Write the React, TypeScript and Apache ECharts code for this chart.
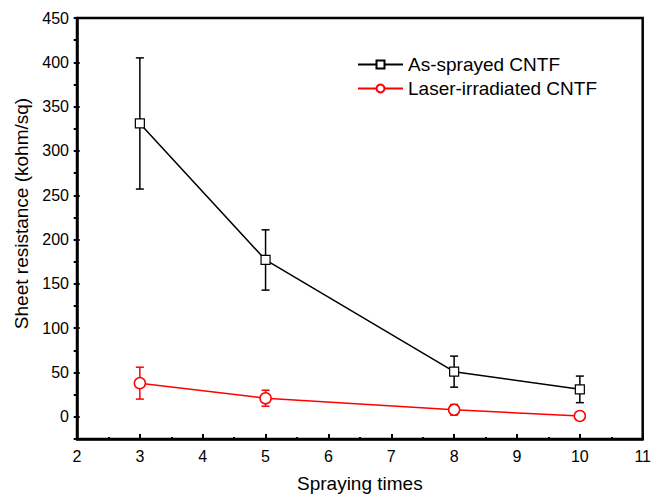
import React, { useEffect, useRef } from "react";
import * as echarts from "echarts";

const sprayTimes = [3, 5, 8, 10];
const asSprayed = [331, 177, 51, 31];
const asSprayedErr = [74, 34, 17.5, 15];
const laser = [38, 21, 8, 1];
const laserErr = [18, 9, 6, 3];
const xMajorTicks = [2, 3, 4, 5, 6, 7, 8, 9, 10, 11];
const xMinorTicks = [2.5, 3.5, 4.5, 5.5, 6.5, 7.5, 8.5, 9.5, 10.5];
const yMajorTicks = [0, 50, 100, 150, 200, 250, 300, 350, 400, 450];
const yMinorTicks = [-25, 25, 75, 125, 175, 225, 275, 325, 375, 425];

const FONT = "Liberation Sans, Arial, sans-serif";

function errorSeries(name: string, ys: number[], errs: number[], color: string) {
  return {
    type: "custom",
    name: name + "-err",
    xAxisIndex: 0,
    yAxisIndex: 0,
    z: 1,
    silent: true,
    data: sprayTimes.map((x, i) => [x, ys[i], errs[i]]),
    renderItem: (params: any, api: any) => {
      const x = api.value(0);
      const y = api.value(1);
      const e = api.value(2);
      const hi = api.coord([x, y + e]);
      const lo = api.coord([x, y - e]);
      const hw = 4;
      const style = { stroke: color, lineWidth: 1.5 };
      return {
        type: "group",
        children: [
          { type: "line", shape: { x1: hi[0], y1: hi[1], x2: lo[0], y2: lo[1] }, style },
          { type: "line", shape: { x1: hi[0] - hw, y1: hi[1], x2: hi[0] + hw, y2: hi[1] }, style },
          { type: "line", shape: { x1: lo[0] - hw, y1: lo[1], x2: lo[0] + hw, y2: lo[1] }, style },
        ],
      };
    },
  };
}

const GRID_LEFT = 77;
const GRID_RIGHT = 8;
const GRID_TOP = 18;
const GRID_BOTTOM = 58;
const W = 654;
const H = 498;
const PLOT_W = W - GRID_LEFT - GRID_RIGHT;
const PLOT_H = H - GRID_TOP - GRID_BOTTOM;

const tickLine = { color: "#000", width: 2 };

function xTickAxis(values: number[], length: number) {
  return {
    type: "value",
    position: "top",
    offset: -PLOT_H,
    min: 2,
    max: 11,
    axisLine: { show: false, onZero: false },
    axisTick: { show: true, inside: false, length, customValues: values, lineStyle: tickLine },
    axisLabel: { show: false },
    splitLine: { show: false },
  };
}

function yTickAxis(values: number[], length: number) {
  return {
    type: "value",
    position: "right",
    offset: -PLOT_W,
    min: -25,
    max: 450,
    axisLine: { show: false, onZero: false },
    axisTick: { show: true, inside: false, length, customValues: values, lineStyle: tickLine },
    axisLabel: { show: false },
    splitLine: { show: false },
  };
}

export default function App() {
  const ref = useRef<HTMLDivElement>(null);
  useEffect(() => {
    if (!ref.current) return;
    const chart = echarts.init(ref.current, undefined, { renderer: "svg" });
    chart.setOption({
      animation: false,
      backgroundColor: "#fff",
      grid: {
        left: GRID_LEFT,
        right: GRID_RIGHT,
        top: GRID_TOP,
        bottom: GRID_BOTTOM,
        show: true,
        borderColor: "#000",
        borderWidth: 2.5,
      },
      legend: {
        orient: "vertical",
        left: 352,
        top: 50,
        itemWidth: 45,
        itemHeight: 10,
        itemGap: 5,
        data: ["As-sprayed CNTF", "Laser-irradiated CNTF"],
        textStyle: { fontFamily: FONT, fontSize: 19, color: "#000", lineHeight: 19 },
      },
      xAxis: [
        {
          type: "value",
          position: "bottom",
          min: 2,
          max: 11,
          interval: 1,
          name: "Spraying times",
          nameLocation: "middle",
          nameGap: 35,
          nameTextStyle: { fontFamily: FONT, fontSize: 19, color: "#000" },
          axisLine: { show: true, onZero: false, lineStyle: { color: "#000", width: 2.5 } },
          axisTick: { show: false },
          axisLabel: { show: true, fontFamily: FONT, fontSize: 16, color: "#000", margin: 9 },
          splitLine: { show: false },
        },
        xTickAxis(xMajorTicks, 6),
        xTickAxis(xMinorTicks, 3),
      ],
      yAxis: [
        {
          type: "value",
          position: "left",
          min: -25,
          max: 450,
          name: "Sheet resistance (kohm/sq)",
          nameLocation: "middle",
          nameGap: 45,
          nameTextStyle: { fontFamily: FONT, fontSize: 19, color: "#000", padding: [0, 0, 0, 30] },
          axisLine: { show: true, onZero: false, lineStyle: { color: "#000", width: 2.5 } },
          axisTick: { show: false },
          axisLabel: {
            show: true,
            fontFamily: FONT,
            fontSize: 16,
            color: "#000",
            margin: 8,
            customValues: yMajorTicks,
          },
          splitLine: { show: false },
        },
        yTickAxis(yMinorTicks, 3),
        yTickAxis(yMajorTicks, 6),
      ],
      series: [
        errorSeries("As-sprayed CNTF", asSprayed, asSprayedErr, "#000"),
        errorSeries("Laser-irradiated CNTF", laser, laserErr, "#ff0000"),
        {
          type: "line",
          name: "As-sprayed CNTF",
          xAxisIndex: 0,
          yAxisIndex: 0,
          z: 3,
          data: sprayTimes.map((x, i) => [x, asSprayed[i]]),
          symbol: "rect",
          symbolSize: 9,
          lineStyle: { color: "#000", width: 1.5 },
          itemStyle: { color: "#fff", borderColor: "#000", borderWidth: 1.2 },
        },
        {
          type: "line",
          name: "Laser-irradiated CNTF",
          xAxisIndex: 0,
          yAxisIndex: 0,
          z: 3,
          data: sprayTimes.map((x, i) => [x, laser[i]]),
          symbol: "circle",
          symbolSize: 11,
          lineStyle: { color: "#ff0000", width: 1.5 },
          itemStyle: { color: "#fff", borderColor: "#ff0000", borderWidth: 1.5 },
        },
      ],
    });
    return () => chart.dispose();
  }, []);
  return (
    <div
      ref={ref}
      style={{ position: "fixed", left: 0, top: 0, width: W, height: H }}
    />
  );
}
